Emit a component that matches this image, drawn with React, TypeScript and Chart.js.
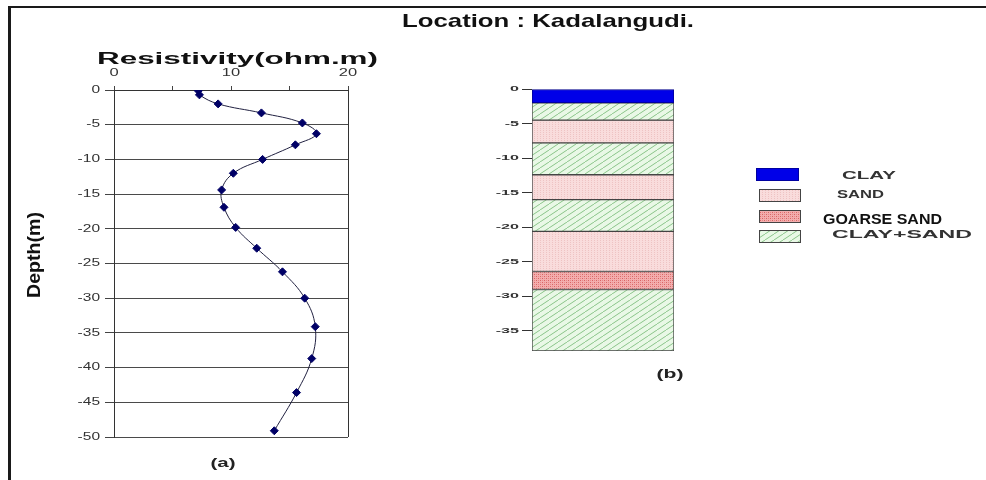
import React, { useEffect, useRef } from 'react';
import { Chart, registerables } from 'chart.js';

Chart.register(...registerables);

// ---------- data ----------
const title = 'Location : Kadalangudi.';
const xAxisTitle = 'Resistivity(ohm.m)';
const yAxisTitle = 'Depth(m)';
const panelLabels = ['(a)', '(b)'];

const resistivity = [7.2, 7.3, 8.9, 12.6, 16.1, 17.3, 15.5, 12.7, 10.2, 9.2, 9.4, 10.4, 12.2, 14.4, 16.3, 17.2, 16.9, 15.6, 13.7];
const depth = [-0.1, -0.7, -2.0, -3.3, -4.75, -6.3, -7.9, -10.0, -12.0, -14.4, -16.9, -19.8, -22.8, -26.2, -30.0, -34.1, -38.7, -43.6, -49.1];

const xTickValues = [0, 5, 10, 15, 20];
const xTickLabels = ['0', '', '10', '', '20'];
const depthTickValues = [0, -5, -10, -15, -20, -25, -30, -35, -40, -45, -50];
const lithoTickValues = [0, -5, -10, -15, -20, -25, -30, -35];

const layerTypes = ['CLAY', 'CLAY+SAND', 'SAND', 'CLAY+SAND', 'SAND', 'CLAY+SAND', 'SAND', 'COARSE SAND', 'CLAY+SAND'];
const layerTop = [0, -2, -4.5, -7.8, -12.4, -16, -20.6, -26.4, -29];
const layerBottom = [-2, -4.5, -7.8, -12.4, -16, -20.6, -26.4, -29, -37.9];

const legendTypes = ['CLAY', 'SAND', 'COARSE SAND', 'CLAY+SAND'];
const legendLabels = ['CLAY', 'SAND', 'GOARSE SAND', 'CLAY+SAND'];

// ---------- helpers ----------
const SANS = '"Liberation Sans", Arial, Helvetica, sans-serif';

type FitOpt = { width?: number; sx?: number; align?: 'left' | 'right' | 'center'; baseline?: CanvasTextBaseline };
function fitText(ctx: CanvasRenderingContext2D, text: string, font: string, color: string, x: number, y: number, opt: FitOpt) {
  ctx.save();
  ctx.font = font;
  ctx.fillStyle = color;
  ctx.textAlign = 'left';
  ctx.textBaseline = opt.baseline || 'alphabetic';
  const m = ctx.measureText(text).width;
  const sx = opt.width ? opt.width / m : opt.sx || 1;
  const w = m * sx;
  const left = opt.align === 'right' ? x - w : opt.align === 'center' ? x - w / 2 : x;
  ctx.translate(left, y);
  ctx.scale(sx, 1);
  ctx.fillText(text, 0, 0);
  ctx.restore();
}

function makePattern(kind: string): CanvasPattern | string {
  if (kind === 'CLAY') return '#0000e8';
  const c = document.createElement('canvas');
  const g = c.getContext('2d') as CanvasRenderingContext2D;
  if (kind === 'SAND') {
    c.width = 3; c.height = 2;
    g.fillStyle = '#f9dcdc'; g.fillRect(0, 0, 3, 2);
    g.fillStyle = '#eec3c3'; g.fillRect(0, 0, 1, 1);
  } else if (kind === 'COARSE SAND') {
    c.width = 4; c.height = 4;
    g.fillStyle = '#f3aeae'; g.fillRect(0, 0, 4, 4);
    g.fillStyle = '#d96464'; g.fillRect(0, 0, 1, 1); g.fillRect(2, 2, 1, 1);
    g.fillStyle = '#e88888'; g.fillRect(2, 0, 1, 1); g.fillRect(0, 2, 1, 1);
  } else {
    c.width = 9; c.height = 6;
    g.fillStyle = '#e9f8e6'; g.fillRect(0, 0, 9, 6);
    g.strokeStyle = '#7fbf7f'; g.lineWidth = 0.9;
    g.beginPath();
    g.moveTo(0, 6); g.lineTo(9, 0);
    g.moveTo(-9, 6); g.lineTo(0, 0);
    g.moveTo(9, 6); g.lineTo(18, 0);
    g.stroke();
  }
  const ctx0 = document.createElement('canvas').getContext('2d') as CanvasRenderingContext2D;
  return ctx0.createPattern(c, 'repeat') as CanvasPattern;
}

export default function App() {
  const leftRef = useRef<HTMLCanvasElement | null>(null);
  const rightRef = useRef<HTMLCanvasElement | null>(null);

  useEffect(() => {
    if (!leftRef.current || !rightRef.current) return;

    const pagePlugin = {
      id: 'pageText',
      afterDraw(chart: any) {
        const ctx: CanvasRenderingContext2D = chart.ctx;
        // outer frame
        ctx.save();
        ctx.fillStyle = '#1a1a1a';
        ctx.fillRect(8, 6, 978, 2);
        ctx.fillRect(8, 6, 3, 474);
        ctx.restore();

        fitText(ctx, title, `bold 19px ${SANS}`, '#111', 402, 27, { width: 292 });
        fitText(ctx, xAxisTitle, `bold 16px ${SANS}`, '#111', 97, 64, { width: 281 });
        fitText(ctx, panelLabels[0], `bold 12px ${SANS}`, '#222', 223, 467, { width: 25, align: 'center' });

        ctx.save();
        ctx.translate(39.5, 255);
        ctx.rotate(-Math.PI / 2);
        fitText(ctx, yAxisTitle, `bold 19px ${SANS}`, '#111', 0, 0, { width: 86, align: 'center' });
        ctx.restore();

        const xs = chart.scales.x;
        xs.ticks.forEach((t: any, i: number) => {
          const lab = xTickLabels[i];
          if (lab) fitText(ctx, lab, `11px ${SANS}`, '#333', xs.getPixelForValue(t.value), 76, { sx: 1.5, align: 'center' });
        });
        const ys = chart.scales.y;
        ys.ticks.forEach((t: any) => {
          fitText(ctx, String(t.value), `10px ${SANS}`, '#333', 100, ys.getPixelForValue(t.value), { sx: 1.55, align: 'right', baseline: 'middle' });
        });
      },
    };

    const left = new Chart(leftRef.current, {
      type: 'scatter',
      data: {
        datasets: [
          {
            data: resistivity.map((x, i) => ({ x, y: depth[i] })),
            showLine: true,
            borderColor: '#202040',
            borderWidth: 1,
            tension: 0.4,
            pointStyle: 'rectRot',
            pointRadius: 4,
            pointBackgroundColor: '#000066',
            pointBorderColor: '#000066',
            pointBorderWidth: 1,
          } as any,
        ],
      },
      options: {
        responsive: false,
        animation: false,
        layout: { padding: { left: 0, top: 0, right: 986 - 348, bottom: 480 - 437 }, autoPadding: false } as any,
        plugins: { legend: { display: false }, tooltip: { enabled: false } },
        scales: {
          x: {
            type: 'linear',
            position: 'top',
            min: 0,
            max: 20,
            afterBuildTicks: (s: any) => { s.ticks = xTickValues.map((v) => ({ value: v })); },
            afterFit: (s: any) => { s.height = 90; },
            ticks: { display: false },
            grid: {
              drawOnChartArea: true,
              color: (c: any) => (c.tick && c.tick.value === 20 ? '#333' : 'rgba(0,0,0,0)'),
              tickColor: '#444',
              tickLength: 4,
            },
            border: { display: true, color: '#333' },
          } as any,
          y: {
            type: 'linear',
            min: -50,
            max: 0,
            afterBuildTicks: (s: any) => { s.ticks = depthTickValues.map((v) => ({ value: v })); },
            afterFit: (s: any) => { s.width = 114; },
            ticks: { display: false },
            grid: { color: '#4a4a4a', tickColor: '#444', tickLength: 9 },
            border: { display: true, color: '#333' },
          } as any,
        },
      },
      plugins: [pagePlugin],
    });

    const patterns: Record<string, any> = {};
    ['CLAY', 'SAND', 'COARSE SAND', 'CLAY+SAND'].forEach((k) => { patterns[k] = makePattern(k); });

    const lithoPlugin = {
      id: 'lithoText',
      afterDraw(chart: any) {
        const ctx: CanvasRenderingContext2D = chart.ctx;
        const ys = chart.scales.y;
        ys.ticks.forEach((t: any) => {
          fitText(ctx, String(t.value), `bold 7px ${SANS}`, '#333', 519, ys.getPixelForValue(t.value), { sx: 2.3, align: 'right', baseline: 'middle' });
        });
        fitText(ctx, panelLabels[1], `bold 13px ${SANS}`, '#222', 670, 378, { width: 27, align: 'center' });

        // legend
        const sw = [
          [756, 168, 43, 13],
          [759, 189, 42, 13],
          [759, 210, 42, 13],
          [759, 230, 42, 13],
        ];
        const tx = [
          { x: 842, y: 179, w: 54, font: `bold 10px ${SANS}` },
          { x: 837, y: 198, w: 47, font: `bold 10px ${SANS}` },
          { x: 823, y: 224, w: 119, font: `bold 15px ${SANS}` },
          { x: 832, y: 238, w: 140, font: `bold 10px ${SANS}` },
        ];
        legendTypes.forEach((type, i) => {
          const di = layerTypes.indexOf(type);
          const ds = chart.data.datasets[di];
          const [x, y, w, h] = sw[i];
          ctx.save();
          ctx.fillStyle = ds.backgroundColor;
          ctx.fillRect(x, y, w, h);
          ctx.strokeStyle = type === 'CLAY' ? '#0000a0' : '#444';
          ctx.lineWidth = 1;
          ctx.strokeRect(x + 0.5, y + 0.5, w - 1, h - 1);
          ctx.restore();
          const t = tx[i];
          fitText(ctx, legendLabels[i], t.font, i === 2 ? '#111' : '#333', t.x, t.y, { width: t.w });
        });
      },
    };

    const right = new Chart(rightRef.current, {
      type: 'bar',
      data: {
        labels: [''],
        datasets: layerTypes.map((type, i) => ({
          label: type,
          data: [[layerBottom[i], layerTop[i]]],
          backgroundColor: patterns[type],
          borderColor: type === 'CLAY' ? '#00008a' : '#444',
          borderWidth: 1,
          borderSkipped: false,
          grouped: false,
          barPercentage: 1,
          categoryPercentage: 1,
        })) as any,
      },
      options: {
        responsive: false,
        animation: false,
        layout: { padding: { left: 0, top: 89, right: 986 - 674, bottom: 480 - 351 }, autoPadding: false } as any,
        plugins: { legend: { display: false }, tooltip: { enabled: false } },
        scales: {
          x: { display: false },
          y: {
            type: 'linear',
            min: Math.min(...layerBottom),
            max: Math.max(...layerTop),
            afterBuildTicks: (s: any) => { s.ticks = lithoTickValues.map((v) => ({ value: v })); },
            afterFit: (s: any) => { s.width = 532; },
            ticks: { display: false },
            grid: { drawOnChartArea: false, color: '#333', tickLength: 10 },
            border: { display: false },
          } as any,
        },
      },
      plugins: [lithoPlugin],
    });

    return () => {
      left.destroy();
      right.destroy();
    };
  }, []);

  const cstyle: React.CSSProperties = { position: 'absolute', left: 0, top: 0, width: 986, height: 480 };
  return (
    <div style={{ position: 'absolute', left: 0, top: 0, width: 986, height: 480, background: '#fff', overflow: 'hidden' }}>
      <canvas ref={leftRef} width={986} height={480} style={cstyle} />
      <canvas ref={rightRef} width={986} height={480} style={cstyle} />
    </div>
  );
}
